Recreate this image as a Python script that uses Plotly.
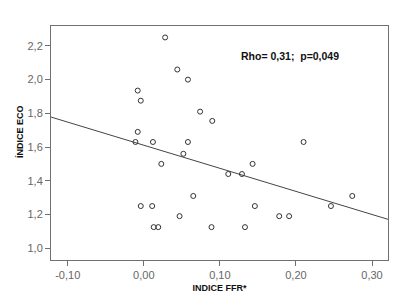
import numpy as np
import plotly.graph_objects as go

indice_ffr = [0.028, 0.044, 0.058, -0.008, -0.004, 0.074, 0.090, -0.008,
              -0.011, 0.012, 0.058, 0.210, 0.052, 0.023, 0.143, 0.111,
              0.129, 0.065, 0.274, -0.004, 0.011, 0.146, 0.246, 0.047,
              0.178, 0.191, 0.013, 0.019, 0.089, 0.133]
indice_eco = [2.25, 2.06, 2.00, 1.935, 1.875, 1.81, 1.755, 1.69,
              1.63, 1.63, 1.63, 1.63, 1.56, 1.50, 1.50, 1.44,
              1.44, 1.31, 1.31, 1.25, 1.25, 1.25, 1.25, 1.19,
              1.19, 1.19, 1.125, 1.125, 1.125, 1.125]

x_range = [-0.122, 0.321]
y_range = [0.93, 2.318]
x_ticks = [-0.10, 0.00, 0.10, 0.20, 0.30]
x_tick_labels = ["-0,10", "0,00", "0,10", "0,20", "0,30"]
y_ticks = [1.0, 1.2, 1.4, 1.6, 1.8, 2.0, 2.2]
y_tick_labels = ["1,0", "1,2", "1,4", "1,6", "1,8", "2,0", "2,2"]
annotation_text = "Rho= 0,31;  p=0,049"

slope, intercept = np.polyfit(indice_ffr, indice_eco, 1)
line_x = np.array(x_range)
line_y = intercept + slope * line_x

fig = go.Figure()
fig.add_trace(go.Scatter(
    x=line_x, y=line_y, mode="lines",
    line=dict(color="#444444", width=1), hoverinfo="skip", showlegend=False))
fig.add_trace(go.Scatter(
    x=indice_ffr, y=indice_eco, mode="markers",
    marker=dict(symbol="circle-open", size=5, color="#333333", line=dict(width=1)),
    showlegend=False))

title_font = dict(family="Arial, Liberation Sans", size=9, color="#111111")
axis_common = dict(
    showgrid=False, zeroline=False, showline=True, linecolor="#707070",
    linewidth=1, mirror=True, ticks="outside", ticklen=5, tickcolor="#707070",
    tickfont=dict(family="Arial, Liberation Sans", size=11, color="#666666"),
)
fig.update_layout(
    width=415, height=304,
    margin=dict(l=51, r=27, t=26, b=42),
    paper_bgcolor="white", plot_bgcolor="white",
    xaxis=dict(range=x_range, tickvals=x_ticks, ticktext=x_tick_labels,
               title=dict(text="<b>INDICE FFR*</b>", standoff=4, font=title_font),
               **axis_common),
    yaxis=dict(range=y_range, tickvals=y_ticks, ticktext=y_tick_labels,
               **axis_common),
    annotations=[
        dict(text="<b>" + annotation_text + "</b>", x=0.192, y=2.14,
             xref="x", yref="y", showarrow=False,
             font=dict(family="Arial, Liberation Sans", size=10.5, color="#111111")),
        dict(text="<b>ÍNDICE ECO</b>", x=-0.092, y=0.551, xref="paper", yref="paper",
             xanchor="center", yanchor="middle",
             textangle=-90, showarrow=False, font=title_font),
    ],
)
fig.write_html("out.html", config={"displayModeBar": False},
               post_script="document.body.style.margin='0';")
